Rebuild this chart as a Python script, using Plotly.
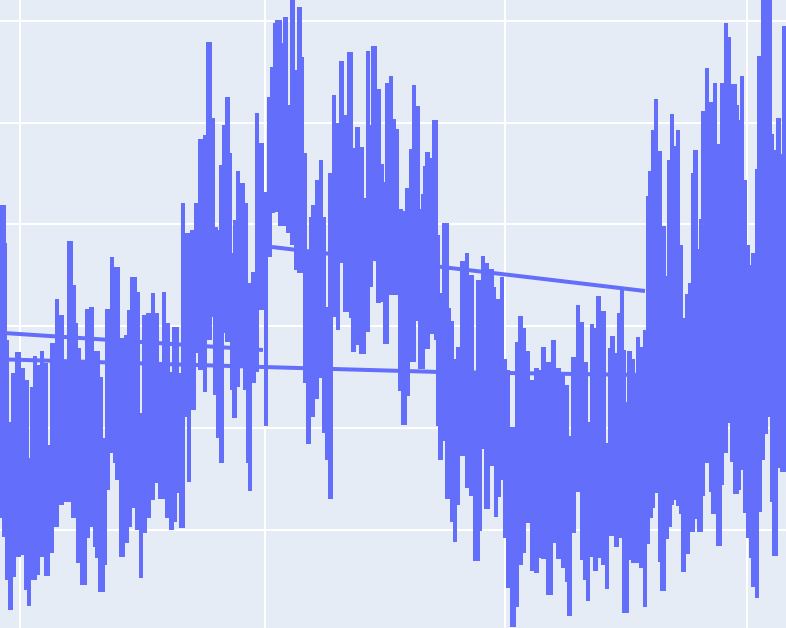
"""
Dense noisy series with straight joins where the samples jump back and forth.
"""
import numpy as np
import plotly.graph_objects as go

BG = "#E5ECF6"
LINE = "#636EFA"

# upper swings of the series
peak_x = [0, 3, 5, 7, 10, 13, 17, 19, 23, 26, 29, 32, 35, 38, 42, 46, 48, 52, 57, 62, 65, 69, 73, 76, 79, 82, 85, 88, 92, 97,
          100, 103, 107, 112, 117, 121, 123, 127, 130, 133, 137, 141, 144, 148, 153, 157, 160, 164, 168, 172, 175, 179,
          183, 187, 192, 196, 200, 205, 210, 213, 216, 219, 222, 224, 227, 230, 233, 235, 238, 243, 246, 248, 253, 257, 261, 263, 266,
          270, 273, 275, 278, 283, 286, 289, 293, 296, 299, 302, 305, 308, 311, 313, 317, 321, 324, 328, 331, 334, 338, 341, 345, 349,
          353, 357, 361, 364, 368, 371, 373, 378, 382, 385, 387, 391, 394, 397, 401, 403, 405, 408, 411, 414, 417, 420, 423, 425, 428,
          431, 434, 438, 440, 445, 449, 452, 455, 458, 462, 467, 471, 475, 478, 483, 486, 488, 491, 494, 496, 498, 502, 505, 508, 512,
          514, 517, 521, 524, 528, 532, 533, 537, 541, 544, 548, 551, 554, 558, 560, 563, 567, 569, 573, 578, 582, 586, 588, 592, 595,
          598, 601, 604, 607, 610, 613, 617, 619, 622, 624, 627, 629, 633, 635, 638, 641, 643, 645, 648, 650, 653, 656, 660, 662, 664,
          667, 669, 672, 675, 678, 681, 683, 687, 690, 693, 696, 699, 701, 703, 707, 711, 713, 715, 718, 720, 722, 726, 729, 733, 737,
          739, 742, 745, 748, 751, 754, 757, 759, 763, 766, 770, 772, 774, 776, 779, 782, 784, 786]
peak_y = [423, 423, 385, 288, 206, 255, 276, 276, 260, 248, 170, 241, 272, 263, 277, 265, 183, 285, 329, 313, 268, 387, 343, 305, 280, 265, 225, 319, 321, 277,
          251, 190, 319, 371, 361, 290, 211, 293, 318, 351, 336, 215, 313, 315, 335, 315, 266, 336, 305, 256, 301, 255,
          425, 395, 398, 425, 489, 493, 586, 510, 401, 398, 463, 503, 531, 475, 375, 408, 457, 445, 425, 345, 356, 515, 485, 428, 436,
          531, 561, 605, 608, 585, 611, 523, 633, 558, 621, 571, 475, 378, 411, 423, 448, 468, 411, 321, 455, 533, 505, 567, 513, 576,
          480, 501, 481, 430, 577, 503, 582, 539, 464, 446, 545, 552, 509, 499, 419, 346, 417, 440, 479, 543, 522, 419, 434, 462, 476,
          470, 508, 393, 335, 405, 320, 307, 269, 281, 367, 375, 353, 256, 348, 372, 365, 327, 359, 341, 258, 329, 351, 269, 258, 201,
          160, 286, 312, 300, 277, 248, 191, 260, 258, 281, 266, 177, 288, 260, 236, 256, 243, 192, 271, 323, 306, 266, 206, 304, 300,
          332, 301, 317, 185, 280, 292, 275, 315, 341, 278, 226, 277, 269, 253, 291, 281, 211, 298, 432, 457, 498, 529, 477, 386, 402,
          352, 468, 514, 482, 498, 383, 310, 334, 345, 455, 478, 379, 409, 517, 560, 526, 494, 545, 484, 452, 545, 605, 591, 544, 523,
          508, 552, 448, 383, 363, 375, 459, 572, 633, 633, 633, 494, 466, 478, 510, 474, 602, 602]

# lower swings of the series
trough_x = [0, 2, 3, 4, 7, 11, 14, 18, 22, 23, 27, 29, 33, 37, 42, 48, 52, 57, 62, 67, 71, 74, 78, 83, 87, 91, 95, 98,
            101, 105, 108, 112, 115, 118, 122, 126, 129, 132, 135, 138, 141, 145, 149, 153, 157, 162, 167, 171, 174, 177, 181,
            186, 189, 194, 197, 202, 205, 208, 212, 215, 218, 221, 224, 228, 232, 234, 238, 242, 245, 248, 250, 254, 257, 262, 266,
            269, 272, 277, 280, 285, 288, 292, 296, 300, 305, 309, 312, 317, 321, 324, 327, 330, 334, 338, 342, 347, 351, 354, 358, 362,
            366, 370, 375, 379, 382, 385, 389, 394, 400, 403, 407, 412, 418, 421, 427, 432, 436, 438, 441, 444, 447, 452, 455, 458,
            463, 467, 472, 476, 480, 483, 487, 492, 496, 499, 502, 505, 508, 513, 517, 520, 524, 528, 532, 536, 540, 543, 549, 553,
            559, 563, 567, 570, 574, 578, 582, 585, 588, 592, 596, 599, 603, 607, 612, 616, 620, 626, 630, 635, 641, 645, 648, 651,
            653, 656, 660, 663, 667, 670, 672, 675, 678, 681, 684, 688, 691, 695, 701, 703, 707, 711, 714, 719, 722, 726, 728, 732,
            735, 739, 742, 745, 748, 751, 753, 757, 760, 763, 766, 768, 772, 775, 778, 783, 786]
trough_y = [128, 110, 123, 91, 48, 18, 51, 71, 95, 73, 38, 22, 48, 53, 71, 52, 75, 101, 123, 126, 155, 110, 65, 43, 90, 101, 81, 70,
            36, 63, 138, 175, 165, 148, 71, 85, 101, 120, 160, 98, 50, 95, 110, 128, 145, 129, 110, 98, 106, 135, 100,
            211, 146, 218, 275, 258, 236, 288, 311, 233, 190, 165, 295, 286, 238, 210, 241, 261, 238, 165, 137, 245, 256, 318, 202,
            371, 415, 416, 402, 402, 395, 383, 358, 355, 245, 184, 211, 229, 250, 195, 168, 129, 311, 298, 365, 316, 310, 276, 283, 274,
            296, 341, 368, 325, 326, 284, 333, 333, 237, 203, 232, 266, 307, 259, 279, 294, 288, 202, 168, 187, 129, 106, 86, 123,
            172, 140, 132, 67, 97, 179, 119, 162, 111, 131, 148, 90, 40, 1, 21, 63, 75, 105, 57, 55, 70, 69, 33, 85,
            69, 60, 46, 12, 95, 136, 68, 48, 27, 71, 57, 70, 63, 39, 92, 81, 90, 15, 68, 65, 60, 21, 84, 110,
            120, 135, 66, 37, 89, 101, 123, 128, 122, 114, 56, 74, 96, 109, 96, 132, 165, 136, 114, 82, 143, 175, 205, 166,
            134, 138, 158, 115, 90, 70, 41, 30, 116, 168, 194, 211, 126, 72, 160, 156, 190]

# straight joins between the jumps
join_x = [[-10, 263], [-10, 440], [272, 645], [440, 645]]
join_y = [[296, 278], [269, 256], [381, 337], [256, 253]]

x_ticks = [20, 265, 505, 747]
y_ticks = [98, 200, 302, 404, 505, 607]


def strokes():
    # each swing is a stroke to the closest opposite swing, sorted left to right
    px, tx = np.array(peak_x), np.array(trough_x)
    out = []
    for x0, top in zip(peak_x, peak_y):
        out.append((x0, top, trough_y[int(np.abs(tx - x0).argmin())]))
    for x0, bottom in zip(trough_x, trough_y):
        out.append((x0, peak_y[int(np.abs(px - x0).argmin())], bottom))
    return sorted(out)


xs, ys = [], []
cols = strokes()
for (x0, top0, bot0), (x1, top1, bot1) in zip(cols, cols[1:] + cols[-1:]):
    xs += [x0, x0, None]
    ys += [top0, bot0, None]
    # close the body between neighbours, only over the span they share
    if x1 - x0 >= 3 and min(top0, top1) > max(bot0, bot1):
        xs += [(x0 + x1) / 2, (x0 + x1) / 2, None]
        ys += [min(top0, top1), max(bot0, bot1), None]

fig = go.Figure()
fig.add_trace(go.Scatter(x=xs, y=ys, mode="lines", line=dict(color=LINE, width=4)))
for jx, jy in zip(join_x, join_y):
    fig.add_trace(go.Scatter(x=jx, y=jy, mode="lines", line=dict(color=LINE, width=4)))

fig.update_layout(
    width=786,
    height=628,
    margin=dict(l=0, r=0, t=0, b=0),
    paper_bgcolor=BG,
    plot_bgcolor=BG,
    showlegend=False,
    xaxis=dict(range=[0, 786], tickvals=x_ticks, showticklabels=False, gridcolor="white", gridwidth=2, zeroline=False),
    yaxis=dict(range=[0, 628], tickvals=y_ticks, showticklabels=False, gridcolor="white", gridwidth=2, zeroline=False),
)
fig.write_html("out.html", config=dict(displayModeBar=False),
               post_script="document.body.style.margin = '0';")
